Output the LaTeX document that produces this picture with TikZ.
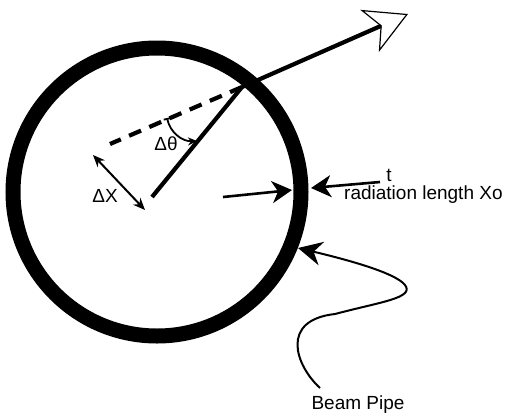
\documentclass[tikz,border=0pt]{standalone}
\usepackage{fontspec}
\setmainfont{Liberation Sans}
\usetikzlibrary{arrows.meta}

\begin{document}
\begin{tikzpicture}[
    x=1pt, y=-1pt,
    >=Stealth,
    pipe/.style={line width=15pt},
    track/.style={line width=4.2pt},
    lbl/.style={font=\fontsize{19}{21}\selectfont, inner sep=0pt},
    pointer/.style={line width=2.6pt, -{Stealth[length=20pt, width=22pt, inset=6pt]}}
  ]
  \useasboundingbox (0,0) rectangle (506,418);

  % beam pipe wall
  \coordinate (ctr) at (157,192);
  \draw[pipe] (ctr) circle[radius=144];

  % particle track, scattered in the wall
  \coordinate (orig) at (152,197);
  \coordinate (hit) at (242,87);
  \coordinate (out) at (408,14);
  \coordinate (ghost) at (110,144);
  \draw[track] (orig) -- (hit);
  \draw[track, -{Stealth[open, length=42pt, width=46pt, inset=12pt, line width=1.2pt]}]
    (hit) -- (out);
  \draw[track, dash pattern=on 13pt off 9pt] (hit) -- (ghost);

  % displacement and angle
  \coordinate (dxa) at (93,155);
  \coordinate (dxb) at (145,210);
  \draw[line width=2pt, {Stealth[length=12pt, width=10pt]}-{Stealth[length=12pt, width=10pt]}]
    (dxa) -- (dxb);
  \node[lbl] (dxlbl) at (105,196) {ΔX};

  \coordinate (tha) at (167,118);
  \coordinate (thb) at (197,141);
  \draw[line width=1.8pt, {Bar[width=7pt]}-{Stealth[length=9pt, width=8pt]}]
    (tha) to[bend right=40] (thb);
  \node[lbl] (thlbl) at (166,144) {Δθ};

  % wall thickness
  \coordinate (tla) at (223,197);
  \coordinate (tlb) at (292,190);
  \coordinate (tra) at (380,182);
  \coordinate (trb) at (311,188);
  \draw[pointer] (tla) -- (tlb);
  \draw[pointer] (tra) -- (trb);
  \node[lbl] (tlbl) at (389,175) {t};
  \node[lbl, anchor=west] (xolbl) at (344,195) {radiation length Xo};

  % beam pipe label
  \node[lbl] (bplbl) at (358,405) {Beam Pipe};
  \coordinate (bpfoot) at (320,388);
  \coordinate (bptip) at (298,248);
  \draw[line width=2pt, -{Stealth[length=24pt, width=24pt, inset=8pt]}]
    (bpfoot) .. controls (295,365) and (280,320) .. (335,314)
    .. controls (380,302) and (415,298) .. (405,285)
    .. controls (395,272) and (340,258) .. (bptip);
\end{tikzpicture}
\end{document}
